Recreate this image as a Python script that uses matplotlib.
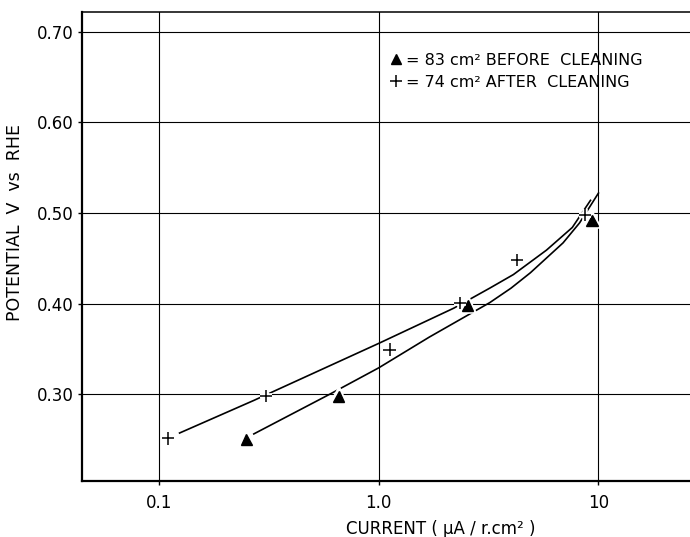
import matplotlib
matplotlib.use("Agg")
import matplotlib.pyplot as plt
import matplotlib.patheffects as pe
from matplotlib.lines import Line2D

plt.rcParams['font.family'] = ['DejaVu Sans']

# measured points, before cleaning (83 cm2) and after cleaning (74 cm2)
before_current = [0.25, 0.657, 2.54, 9.34]
before_potential = [0.25, 0.297, 0.398, 0.492]
after_current = [0.11, 0.306, 1.12, 2.34, 4.25, 8.68]
after_potential = [0.251, 0.298, 0.349, 0.4005, 0.448, 0.498]

# hand drawn curves through each set
before_curve_x = [0.27, 0.6, 1.0, 1.7, 3.2, 4.0, 4.9, 6.9, 8.2, 10.0]
before_curve_y = [0.256, 0.300, 0.329, 0.363, 0.401, 0.417, 0.434, 0.467, 0.489, 0.522]
after_curve_x = [0.124, 0.27, 1.0, 2.2, 3.2, 4.1, 5.8, 7.6, 9.2]
after_curve_y = [0.257, 0.293, 0.356, 0.395, 0.417, 0.432, 0.459, 0.484, 0.514]

x_ticks = [0.1, 1.0, 10]
x_tick_labels = ['0.1', '1.0', '10']
y_ticks = [0.30, 0.40, 0.50, 0.60, 0.70]
y_tick_labels = ['0.30', '0.40', '0.50', '0.60', '0.70']

legend_labels = ['= 83 cm² BEFORE  CLEANING', '= 74 cm² AFTER  CLEANING']

fig = plt.figure(figsize=(6.9, 5.37), dpi=100)
ax = fig.add_axes([82/690, 56/537, 608/690, 469/537])

ax.set_xscale('log')
ax.set_xlim(0.0446, 26.1)
ax.set_ylim(0.204, 0.722)

ax.set_xticks(x_ticks)
ax.set_xticklabels(x_tick_labels)
ax.set_yticks(y_ticks)
ax.set_yticklabels(y_tick_labels)
ax.minorticks_off()
ax.tick_params(axis='both', direction='out', length=3, width=1, colors='black', labelsize=12)
ax.tick_params(axis='x', pad=6)
ax.tick_params(axis='y', pad=3)

ax.grid(True, color='black', linewidth=0.8)
ax.set_axisbelow(True)

ax.spines['right'].set_visible(False)
ax.spines['left'].set_linewidth(1.6)
ax.spines['bottom'].set_linewidth(1.6)
ax.spines['top'].set_linewidth(1.1)

# curves first, markers on top with a white halo so the lines break around them
ax.plot(before_curve_x, before_curve_y, color='black', linewidth=1.2)
ax.plot(after_curve_x, after_curve_y, color='black', linewidth=1.2)

halo = [pe.withStroke(linewidth=4, foreground='white')]
ax.plot(before_current, before_potential, linestyle='none', marker='^', markersize=8,
        color='black', markeredgewidth=1, path_effects=halo)
ax.plot(after_current, after_potential, linestyle='none', marker='+', markersize=9,
        color='black', markeredgewidth=1.1, path_effects=halo)

handles = [Line2D([], [], linestyle='none', marker='^', markersize=7, color='black'),
           Line2D([], [], linestyle='none', marker='+', markersize=9, color='black', markeredgewidth=1.1)]
ax.legend(handles, legend_labels, loc='upper left', bbox_to_anchor=(0.496, 0.93),
          frameon=False, fontsize=11.5, handlelength=0.6, handletextpad=0.3,
          labelspacing=0.42, borderpad=0)

ax.set_xlabel('CURRENT ( μA / r.cm² )', fontsize=12, va='top')
ax.xaxis.set_label_coords(0.59, -0.083)
ax.set_ylabel('POTENTIAL  V  vs  RHE', fontsize=12.5)
ax.yaxis.set_label_coords(-0.095, 0.552)

fig.savefig('out.png', dpi=100)
